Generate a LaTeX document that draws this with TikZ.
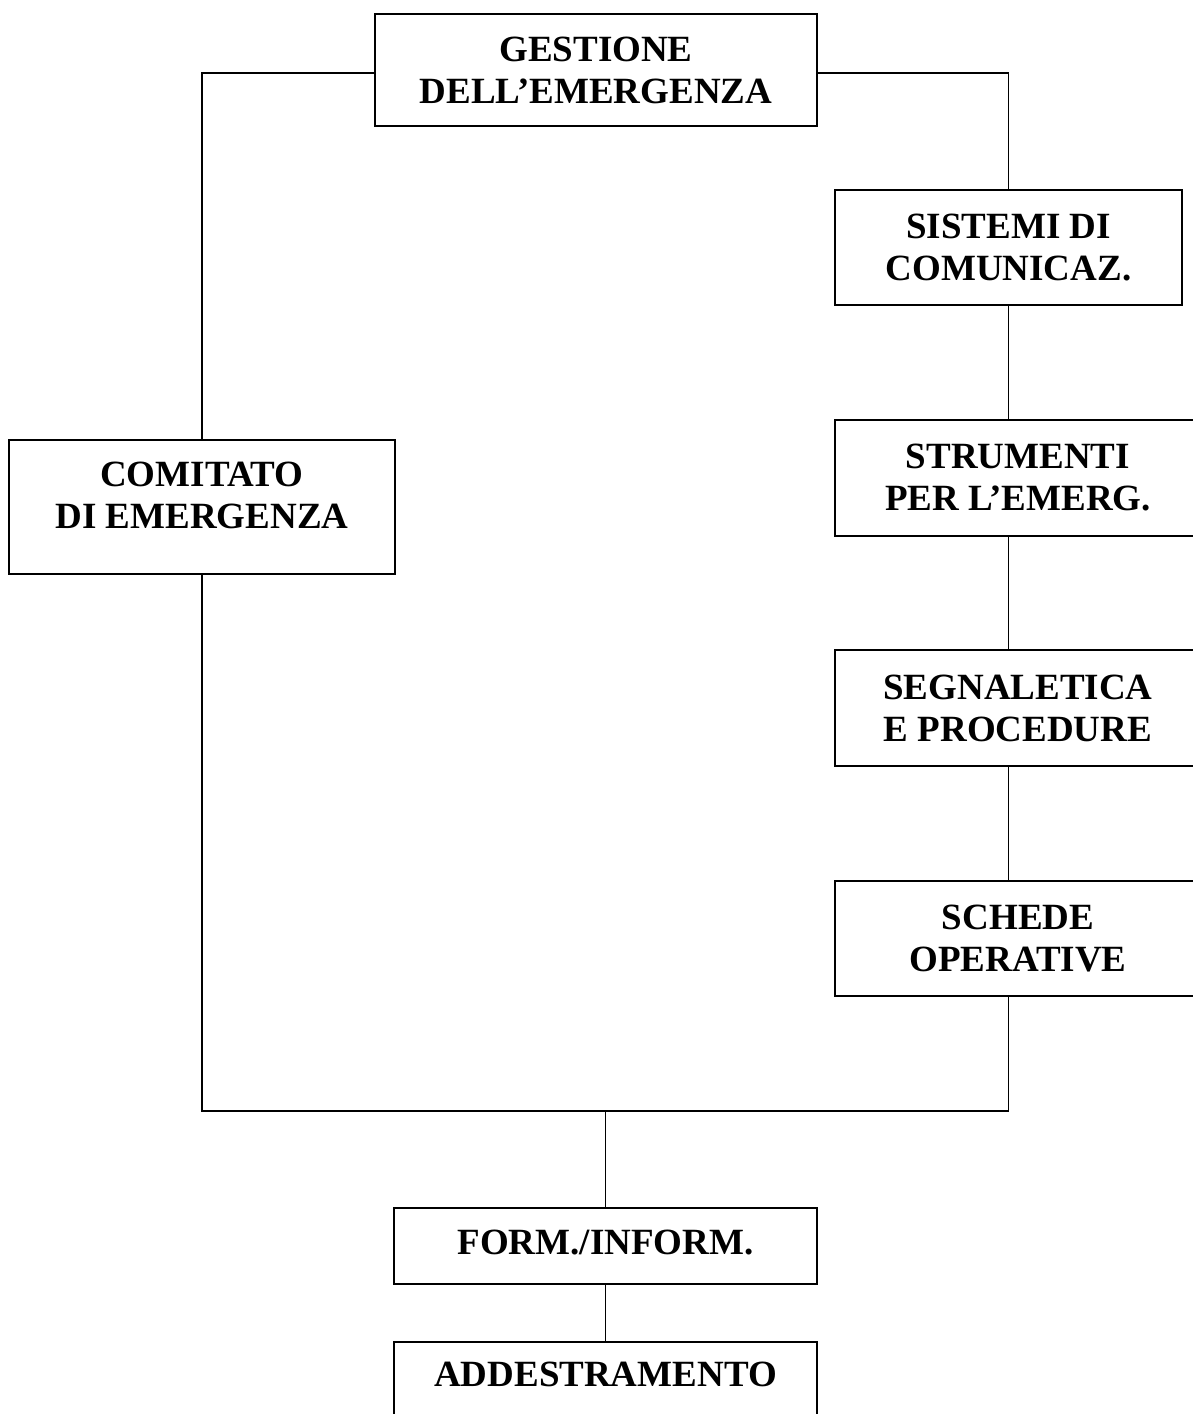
\documentclass[tikz,border=0pt]{standalone}
\usepackage{fontspec}
\setmainfont{Liberation Serif}
\usetikzlibrary{calc}
\begin{document}
\begin{tikzpicture}[x=0.5pt,y=-0.5pt,
  box/.style={draw, line width=1pt, anchor=north west, inner sep=0pt,
    align=center, font=\fontsize{18.5pt}{21pt}\selectfont\bfseries},
  conn/.style={line width=0.9pt}]
\useasboundingbox (0,0) rectangle (1193,1414);
\fill[white] (0,0) rectangle (1193,1414);
\clip (0,0) rectangle (1193,1414);

\node[box, minimum width=221pt, minimum height=56pt] (gest) at (374,13) {GESTIONE\\DELL’EMERGENZA};
\node[box, minimum width=173.5pt, minimum height=57.5pt] (sist) at (834,189) {SISTEMI DI\\COMUNICAZ.};
\node[box, minimum width=183pt, minimum height=58pt] (strum) at (834,419) {STRUMENTI\\PER L’EMERG.};
\node[box, minimum width=183pt, minimum height=58pt] (segn) at (834,649) {SEGNALETICA\\E PROCEDURE};
\node[box, minimum width=183pt, minimum height=57.5pt] (sched) at (834,880) {SCHEDE\\OPERATIVE};
\node[box, minimum width=193pt, minimum height=67pt, text depth=12pt] (comit) at (8,439) {COMITATO\\DI EMERGENZA};
\node[box, minimum width=211.5pt, minimum height=38pt, text depth=3.5pt] (form) at (393,1207) {FORM./INFORM.};
\node[box, minimum width=211.5pt, minimum height=50pt, text depth=17.5pt] (addes) at (393,1341) {ADDESTRAMENTO};

\coordinate (hb) at (0,1111);
\coordinate (jm) at (form.north |- hb);

\draw[conn] ($(gest.west)+(0,3)$) -| (comit.north);
\draw[conn] ($(gest.east)+(0,3)$) -| (sist.north);
\draw[conn] (sist.south) -- (sist.south |- strum.north);
\draw[conn] (sist.south |- strum.south) -- (sist.south |- segn.north);
\draw[conn] (sist.south |- segn.south) -- (sist.south |- sched.north);
\draw[conn] (sist.south |- sched.south) |- (jm);
\draw[conn] (comit.south) |- (jm);
\draw[conn] (jm) -- (form.north);
\draw[conn] (form.south) -- (addes.north);
\end{tikzpicture}
\end{document}
